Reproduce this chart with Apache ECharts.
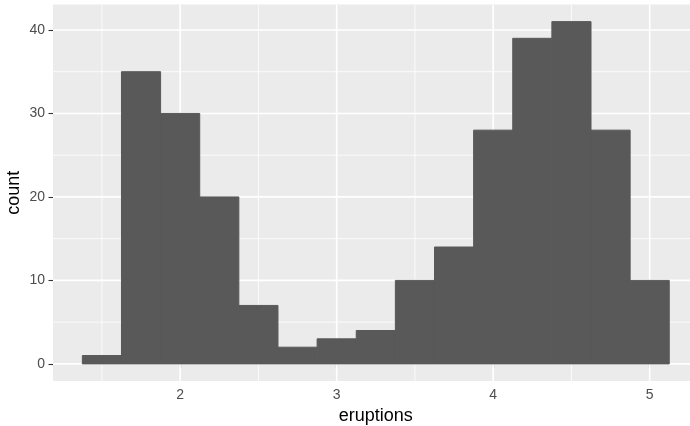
<!DOCTYPE html>
<html>
<head>
<meta charset="utf-8">
<script src="https://cdn.jsdelivr.net/npm/echarts@6/dist/echarts.min.js"></script>
<style>html,body{margin:0;padding:0;background:#fff;}#c{width:690px;height:426px;}</style>
</head>
<body>
<div id="c"></div>
<script>
// Histogram bins (centres) and counts, binwidth 0.25
const binCenters = [1.5, 1.75, 2.0, 2.25, 2.5, 2.75, 3.0, 3.25, 3.5, 3.75, 4.0, 4.25, 4.5, 4.75, 5.0];
const counts     = [1, 35, 30, 20, 7, 2, 3, 4, 10, 14, 28, 39, 41, 28, 10];
const binWidth = 0.25;
const xMajorTicks = [2, 3, 4, 5];
const xMinorTicks = [1.5, 2.5, 3.5, 4.5];
const yMajorTicks = [0, 10, 20, 30, 40];
const yMinorTicks = [5, 15, 25, 35];
const xTitle = 'eruptions';
const yTitle = 'count';

const xMin = 1.1875, xMax = 5.3125;
const yMin = -2.05, yMax = 43.05;

const chart = echarts.init(document.getElementById('c'), null, {renderer: 'canvas'});

function vLines(width) {
  return function (params, api) {
    const cs = params.coordSys;
    const x = api.coord([api.value(0), 0])[0];
    return {type: 'line', shape: {x1: x, y1: cs.y, x2: x, y2: cs.y + cs.height},
      style: {stroke: '#FFFFFF', lineWidth: width}, silent: true};
  };
}
function hLines(width) {
  return function (params, api) {
    const cs = params.coordSys;
    const y = api.coord([xMin, api.value(0)])[1];
    return {type: 'line', shape: {x1: cs.x, y1: y, x2: cs.x + cs.width, y2: y},
      style: {stroke: '#FFFFFF', lineWidth: width}, silent: true};
  };
}

const labelFont = {fontFamily: 'Liberation Sans, Arial, Helvetica, sans-serif', fontSize: 14, color: '#4D4D4D'};
const titleFont = {fontFamily: 'Liberation Sans, Arial, Helvetica, sans-serif', fontSize: 18, color: '#000000'};

chart.setOption({
  animation: false,
  grid: {left: 53, right: -8.6, top: 4.5, bottom: 45, show: true, backgroundColor: '#EBEBEB', borderWidth: 0,
         containLabel: false, outerBoundsMode: 'none'},
  xAxis: {
    type: 'value', min: xMin, max: xMax,
    name: xTitle, nameLocation: 'middle', nameGap: 26, nameMoveOverlap: false, nameTextStyle: titleFont,
    axisLine: {show: false},
    axisTick: {show: true, length: 4.5, customValues: xMajorTicks, lineStyle: {color: '#333333', width: 1.1}},
    axisLabel: Object.assign({margin: 7, customValues: xMajorTicks}, labelFont),
    splitLine: {show: false}
  },
  yAxis: {
    type: 'value', min: yMin, max: yMax,
    name: yTitle, nameLocation: 'middle', nameGap: 30, nameMoveOverlap: false, nameTextStyle: titleFont,
    axisLine: {show: false},
    axisTick: {show: true, length: 4.5, customValues: yMajorTicks, lineStyle: {color: '#333333', width: 1.1}},
    axisLabel: Object.assign({margin: 8, customValues: yMajorTicks}, labelFont),
    splitLine: {show: false}
  },
  series: [
    {type: 'custom', data: xMinorTicks.map(v => [v]), renderItem: vLines(0.8), z: 1, silent: true},
    {type: 'custom', data: yMinorTicks.map(v => [v]), renderItem: hLines(0.8), z: 1, silent: true},
    {type: 'custom', data: xMajorTicks.map(v => [v]), renderItem: vLines(1.6), z: 2, silent: true},
    {type: 'custom', data: yMajorTicks.map(v => [v]), renderItem: hLines(1.6), z: 2, silent: true},
    {
      type: 'custom', z: 5, silent: true,
      data: binCenters.map((c, i) => [c, counts[i]]),
      renderItem: function (params, api) {
        const c = api.value(0), n = api.value(1);
        const p0 = api.coord([c - binWidth / 2, n]);
        const p1 = api.coord([c + binWidth / 2, 0]);
        return {type: 'rect', shape: {x: p0[0], y: p0[1], width: p1[0] - p0[0], height: p1[1] - p0[1]},
          style: {fill: '#595959', stroke: '#595959', lineWidth: 1}};
      }
    }
  ]
});
</script>
</body>
</html>
